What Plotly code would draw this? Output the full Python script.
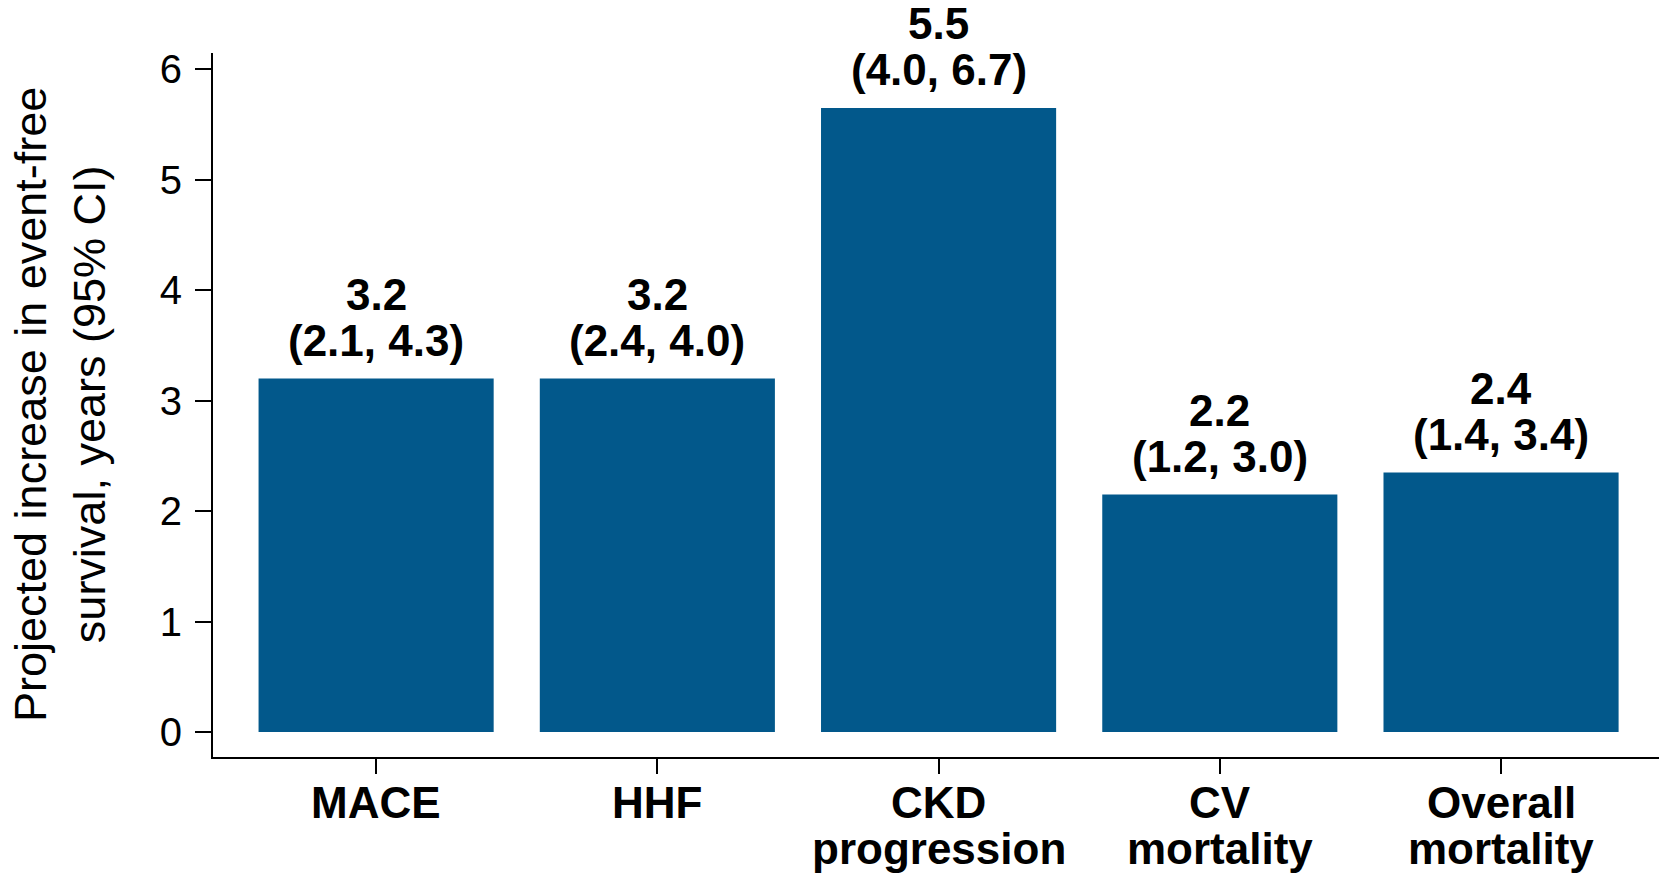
import plotly.graph_objects as go

# ---- data ----
categories = ["MACE", "HHF", "CKD progression", "CV mortality", "Overall mortality"]
label_line1 = ["MACE", "HHF", "CKD", "CV", "Overall"]
label_line2 = ["", "", "progression", "mortality", "mortality"]
bar_heights = [3.2, 3.2, 5.65, 2.15, 2.35]
estimates = ["3.2", "3.2", "5.5", "2.2", "2.4"]
ci_text = ["(2.1, 4.3)", "(2.4, 4.0)", "(4.0, 6.7)", "(1.2, 3.0)", "(1.4, 3.4)"]
y_ticks = [0, 1, 2, 3, 4, 5, 6]
y_title = "Projected increase in event-free<br>survival, years (95% CI)"

FONT = "Liberation Sans, Arial, sans-serif"
BAR_COLOR = "#02588B"

fig = go.Figure()
fig.add_trace(go.Bar(
    x=categories, y=bar_heights,
    marker=dict(color=BAR_COLOR, line=dict(width=0)),
    hoverinfo="skip",
))

annotations = []
for cat, h, est, ci in zip(categories, bar_heights, estimates, ci_text):
    annotations.append(dict(x=cat, y=h, xref="x", yref="y", text=est, showarrow=False,
                            yanchor="middle", yshift=84,
                            font=dict(family=FONT, size=44, color="black", weight="bold")))
    annotations.append(dict(x=cat, y=h, xref="x", yref="y", text=ci, showarrow=False,
                            yanchor="middle", yshift=38,
                            font=dict(family=FONT, size=44, color="black", weight="bold")))
for cat, l1, l2 in zip(categories, label_line1, label_line2):
    annotations.append(dict(x=cat, y=0, xref="x", yref="paper", text=l1, showarrow=False,
                            yanchor="middle", yshift=-45,
                            font=dict(family=FONT, size=44, color="black", weight="bold")))
    if l2:
        annotations.append(dict(x=cat, y=0, xref="x", yref="paper", text=l2, showarrow=False,
                                yanchor="middle", yshift=-91,
                                font=dict(family=FONT, size=44, color="black", weight="bold")))

# y-axis title (two lines, rotated)
annotations.append(dict(x=0, y=0.5, xref="paper", yref="paper", text=y_title,
                        showarrow=False, textangle=-90, xanchor="center", yanchor="middle",
                        xshift=-153, align="center",
                        font=dict(family=FONT, size=45, color="black")))

fig.update_layout(
    width=1659, height=872,
    margin=dict(l=205, r=2, t=45, b=123),
    paper_bgcolor="white", plot_bgcolor="white",
    bargap=0.164,
    showlegend=False,
    font=dict(family=FONT, color="black"),
    annotations=annotations,
    xaxis=dict(
        range=[-0.58, 4.583],
        showline=True, linecolor="black", linewidth=2,
        ticks="outside", ticklen=15, tickwidth=2, tickcolor="black",
        showticklabels=False, showgrid=False, zeroline=False,
    ),
    yaxis=dict(
        range=[-0.226, 6.147],
        tickvals=y_ticks,
        showline=True, linecolor="black", linewidth=2,
        ticks="outside", ticklen=16, tickwidth=2, tickcolor="black",
        tickfont=dict(family=FONT, size=40, color="black"),
        ticklabelstandoff=5,
        showgrid=False, zeroline=False,
    ),
)

fig.write_html("out.html")
